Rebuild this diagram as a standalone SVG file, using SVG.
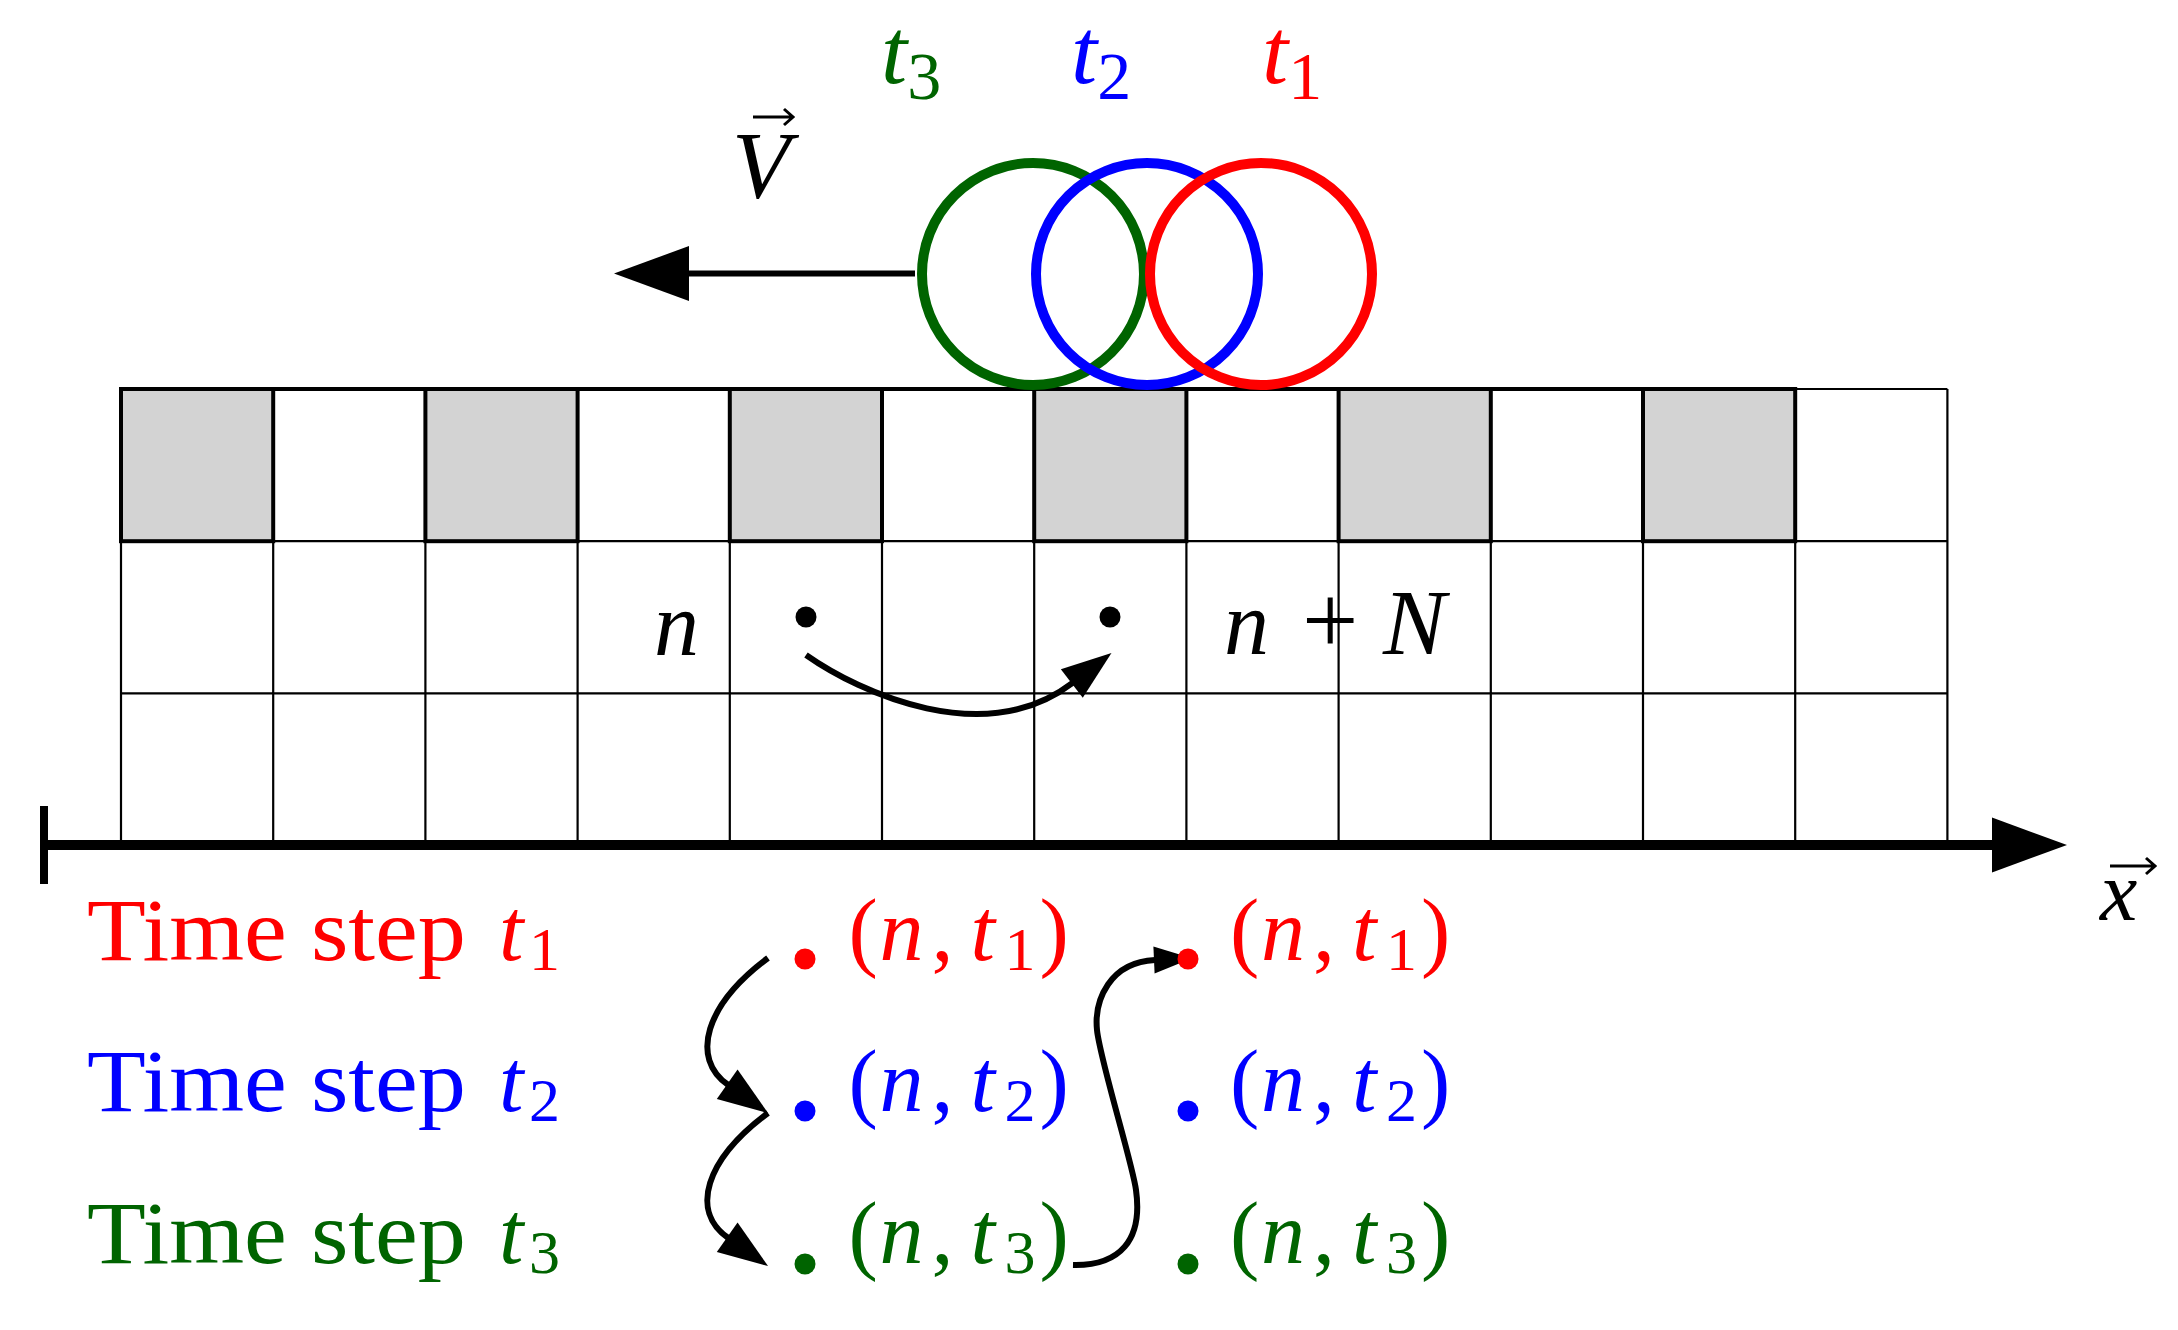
<svg xmlns="http://www.w3.org/2000/svg" width="2178" height="1330" viewBox="0 0 2178 1330">
<style>
.i{font-style:italic}
.thin{fill:none;stroke:#000;stroke-width:2.2}
.thick{fill:none;stroke:#000;stroke-width:4}
.shade{fill:#d3d3d3;stroke:#000;stroke-width:4}
.ring{fill:none;stroke-width:10}
.conn{fill:none;stroke:#000;stroke-width:6}
.red{fill:#ff0000}
.blue{fill:#0000ff}
.green{fill:#006400}
</style>
<defs>
<marker id="headBig" markerUnits="userSpaceOnUse" viewBox="-1 -29 78 58" refX="1" refY="0" markerWidth="78" markerHeight="58" orient="auto"><path d="M0,-27.5 L75,0 L0,27.5 Z" fill="#000"/></marker>
<marker id="headMid" markerUnits="userSpaceOnUse" viewBox="-1 -19 53 38" refX="1" refY="0" markerWidth="53" markerHeight="38" orient="auto"><path d="M0,-18 L50,0 L0,18 Z" fill="#000"/></marker>
<marker id="headSmall" markerUnits="userSpaceOnUse" viewBox="-1 -15 41 30" refX="1" refY="0" markerWidth="41" markerHeight="30" orient="auto"><path d="M0,-13.5 L38,0 L0,13.5 Z" fill="#000"/></marker>
</defs>
<rect width="2178" height="1330" fill="#fff"/>

<g id="grid">
<path class="thin" d="M121 389V845.6M273.2 389V845.6M425.4 389V845.6M577.6 389V845.6M729.8 389V845.6M882 389V845.6M1034.2 389V845.6M1186.4 389V845.6M1338.6 389V845.6M1490.8 389V845.6M1643 389V845.6M1795.2 389V845.6M1947.4 389V845.6M121 541.2H1947.4M121 693.4H1947.4M1795.2 389H1947.4"/>
<path class="thick" d="M121 389H1795.2"/>
<rect class="shade" x="121" y="389" width="152.2" height="152.2"/>
<rect class="shade" x="425.4" y="389" width="152.2" height="152.2"/>
<rect class="shade" x="729.8" y="389" width="152.2" height="152.2"/>
<rect class="shade" x="1034.2" y="389" width="152.2" height="152.2"/>
<rect class="shade" x="1338.6" y="389" width="152.2" height="152.2"/>
<rect class="shade" x="1643" y="389" width="152.2" height="152.2"/>
</g>

<g id="axis">
<path d="M44 806V884" stroke="#000" stroke-width="8"/>
<path d="M40 845H1993" stroke="#000" stroke-width="10" marker-end="url(#headBig)"/>
<text class="i" x="2100" y="920" font-size="84" font-family="Liberation Serif">x</text>
<path d="M2110 866H2154M2146 858L2155 866L2146 874" fill="none" stroke="#000" stroke-width="3"/>
</g>

<g id="circle-t3">
<circle class="ring" cx="1033" cy="274" r="111" stroke="#006400"/>
<text class="i green" x="881" y="83" font-size="94" font-family="Liberation Serif">t<tspan font-size="68" y="99" font-style="normal">3</tspan></text>
</g>
<g id="circle-t2">
<circle class="ring" cx="1147" cy="274" r="111" stroke="#0000ff"/>
<text class="i blue" x="1071" y="83" font-size="94" font-family="Liberation Serif">t<tspan font-size="68" y="99" font-style="normal">2</tspan></text>
</g>
<g id="circle-t1">
<circle class="ring" cx="1261" cy="274" r="111" stroke="#ff0000"/>
<text class="i red" x="1262" y="83" font-size="94" font-family="Liberation Serif">t<tspan font-size="68" y="99" font-style="normal">1</tspan></text>
</g>

<g id="velocity">
<text class="i" x="732" y="198" font-size="95" font-family="Liberation Serif">V</text>
<path d="M753 117H792M784 109L793 117L784 125" fill="none" stroke="#000" stroke-width="3"/>
</g>

<g id="cell-n">
<circle cx="806" cy="617" r="10.5" fill="#000"/>
<text class="i" x="654" y="655" font-size="90" font-family="Liberation Serif">n</text>
</g>
<g id="cell-nN">
<circle cx="1110" cy="617" r="10.5" fill="#000"/>
<text y="654" font-size="90" font-family="Liberation Serif"><tspan class="i" x="1224">n</tspan> <tspan x="1302" font-size="100">+</tspan> <tspan class="i" x="1383" font-size="94">N</tspan></text>
</g>

<g id="legend-t1">
<text class="red" y="960" font-size="88" font-family="Liberation Serif"><tspan x="87" textLength="379" lengthAdjust="spacingAndGlyphs">Time step</tspan> <tspan class="i" x="499">t</tspan><tspan x="529" y="970" font-size="62">1</tspan></text>
</g>
<g id="legend-t2">
<text class="blue" y="1111" font-size="88" font-family="Liberation Serif"><tspan x="87" textLength="379" lengthAdjust="spacingAndGlyphs">Time step</tspan> <tspan class="i" x="499">t</tspan><tspan x="529" y="1121" font-size="62">2</tspan></text>
</g>
<g id="legend-t3">
<text class="green" y="1263" font-size="88" font-family="Liberation Serif"><tspan x="87" textLength="379" lengthAdjust="spacingAndGlyphs">Time step</tspan> <tspan class="i" x="499">t</tspan><tspan x="529" y="1273" font-size="62">3</tspan></text>
</g>

<g id="connectors">
<path d="M915 273.5H688" stroke="#000" stroke-width="6" marker-end="url(#headBig)"/>
<path class="conn" d="M806 655C860 693 985 750 1072.6 682.8" marker-end="url(#headMid)"/>
<path class="conn" d="M768 958C705 1005 690 1058 728 1084.8" marker-end="url(#headMid)"/>
<path class="conn" d="M768 1113C705 1160 690 1211 728 1237.8" marker-end="url(#headMid)"/>
<path class="conn" d="M1073 1265C1120 1266 1143 1240 1136 1190C1133 1165 1100 1060 1097 1030C1094 1000 1110 962 1155 960" marker-end="url(#headSmall)"/>
</g>

<g id="point-left-t1">
<circle class="red" cx="805" cy="959" r="10.5"/>
<text class="red" y="960" font-size="88" font-family="Liberation Serif"><tspan x="848.5">(</tspan><tspan class="i" x="879.5">n</tspan><tspan x="931.5">,</tspan> <tspan class="i" x="970.5">t</tspan><tspan x="1004.5" y="970" font-size="62">1</tspan><tspan x="1039.5" y="960">)</tspan></text>
</g>
<g id="point-left-t2">
<circle class="blue" cx="805" cy="1111" r="10.5"/>
<text class="blue" y="1111" font-size="88" font-family="Liberation Serif"><tspan x="848.5">(</tspan><tspan class="i" x="879.5">n</tspan><tspan x="931.5">,</tspan> <tspan class="i" x="970.5">t</tspan><tspan x="1004.5" y="1121" font-size="62">2</tspan><tspan x="1039.5" y="1111">)</tspan></text>
</g>
<g id="point-left-t3">
<circle class="green" cx="805" cy="1264" r="10.5"/>
<text class="green" y="1263" font-size="88" font-family="Liberation Serif"><tspan x="848.5">(</tspan><tspan class="i" x="879.5">n</tspan><tspan x="931.5">,</tspan> <tspan class="i" x="970.5">t</tspan><tspan x="1004.5" y="1273" font-size="62">3</tspan><tspan x="1039.5" y="1263">)</tspan></text>
</g>
<g id="point-right-t1">
<circle class="red" cx="1188" cy="959" r="10.5"/>
<text class="red" y="960" font-size="88" font-family="Liberation Serif"><tspan x="1230">(</tspan><tspan class="i" x="1261">n</tspan><tspan x="1313">,</tspan> <tspan class="i" x="1352">t</tspan><tspan x="1386" y="970" font-size="62">1</tspan><tspan x="1421" y="960">)</tspan></text>
</g>
<g id="point-right-t2">
<circle class="blue" cx="1188" cy="1111" r="10.5"/>
<text class="blue" y="1111" font-size="88" font-family="Liberation Serif"><tspan x="1230">(</tspan><tspan class="i" x="1261">n</tspan><tspan x="1313">,</tspan> <tspan class="i" x="1352">t</tspan><tspan x="1386" y="1121" font-size="62">2</tspan><tspan x="1421" y="1111">)</tspan></text>
</g>
<g id="point-right-t3">
<circle class="green" cx="1188" cy="1264" r="10.5"/>
<text class="green" y="1263" font-size="88" font-family="Liberation Serif"><tspan x="1230">(</tspan><tspan class="i" x="1261">n</tspan><tspan x="1313">,</tspan> <tspan class="i" x="1352">t</tspan><tspan x="1386" y="1273" font-size="62">3</tspan><tspan x="1421" y="1263">)</tspan></text>
</g>
</svg>
